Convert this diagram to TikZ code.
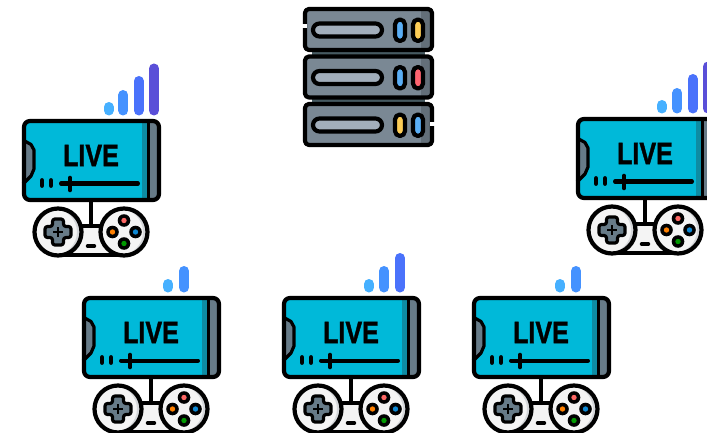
\documentclass[tikz,border=0pt]{standalone}
\usepackage{fontspec}
\setmainfont{Liberation Sans}
\definecolor{scr}{HTML}{00B9D9}
\definecolor{scrd}{HTML}{0E8CA3}
\definecolor{slate}{HTML}{677B88}
\definecolor{rack}{HTML}{7A8894}
\definecolor{rackd}{HTML}{636F79}
\definecolor{neck}{HTML}{465A61}
\definecolor{slot}{HTML}{A2AEBB}
\definecolor{ledb}{HTML}{5AAEF5}
\definecolor{ledy}{HTML}{FDCD56}
\definecolor{ledr}{HTML}{FE646F}
\definecolor{padw}{HTML}{F4F4F4}
\definecolor{padg}{HTML}{D5D7DA}
\definecolor{barA}{HTML}{46B0FF}
\definecolor{barB}{HTML}{4592FF}
\definecolor{barC}{HTML}{4A72FB}
\definecolor{barD}{HTML}{5A4FD8}
\tikzset{
  ink/.style={draw=black,line width=4.2pt,line join=round,line cap=round},
  thin ink/.style={draw=black,line width=3.2pt,line join=round},
  sigbar/.style={line width=10pt,line cap=round},
  livetext/.style={inner sep=0pt,font=\bfseries\fontsize{31}{31}\selectfont\addfontfeature{FakeBold=1.4}},
}
% one stream device: x, y of the screen's corner, name
\newcommand{\gamedevice}[3]{%
\begin{scope}[shift={(#1,#2)}]
  % screen
  \fill[slate,rounded corners=6pt] (1,1) rectangle (138,82);
  \fill[scr,rounded corners=5pt] (1,1) -- (126,1) -- (126,82) -- (1,82) -- cycle;
  \fill[scrd] (120,1.5) rectangle (126,81);
  \draw[draw=black,line width=3.6pt] (126.5,1) -- (126.5,82);
  % notch
  \fill[slate] (1,21) -- (9,25.5) -- (12,31) -- (12,50) -- (9,57) -- (1,65) -- cycle;
  \draw[thin ink,fill=none] (1,21) -- (9,25.5) -- (12,31) -- (12,50) -- (9,57) -- (1,65);
  \draw[ink,rounded corners=6pt] (2,2) rectangle (137,81);
  % label
  \node[livetext] (#3) at (69,36.5) {\scalebox{0.81}[1]{LIVE}};
  % slider
  \draw[line width=4.8pt,line cap=round] (20,61.5) -- (20,66.5);
  \draw[line width=4.8pt,line cap=round] (29,61.5) -- (29,66.5);
  \draw[line width=4pt,line cap=round] (39,64.5) -- (116,64.5);
  \draw[line width=4.6pt,line cap=round] (48,59) -- (48,71);
  % gamepad
  \fill[padw] (50,108) -- (88,108) -- (96,137) -- (42,137) -- cycle;
  \draw[ink] (52,107) -- (86,107);
  \draw[ink] (42,136) -- (96,136);
  \draw[ink] (69,82) -- (69,107);
  \draw[line width=3.4pt,line cap=round] (65.5,127) -- (72.5,127);
  \foreach \cx in {36,102} {
    \fill[padw] (\cx,113) circle (23);
    \begin{scope}
      \clip (\cx,113) circle (23);
      \fill[padg,even odd rule] (\cx,113) circle (23) (\cx-4,113) circle (23);
    \end{scope}
    \draw[ink] (\cx,113) circle (23.5);
  }
  % dpad
  \draw[thin ink,fill=slate,rounded corners=2.5pt]
    (30.5,100) -- (41.5,100) -- (41.5,107.5) -- (49,107.5) -- (49,118.5) -- (41.5,118.5)
    -- (41.5,126) -- (30.5,126) -- (30.5,118.5) -- (23,118.5) -- (23,107.5) -- (30.5,107.5) -- cycle;
  \draw[line width=2.6pt] (36,108) -- (36,118) (31,113) -- (41,113);
  % buttons
  \foreach \bx/\by/\bc in {102/101.5/ledr!90!orange, 90.5/113/orange, 113.5/113/cyan!70!blue, 102/124.5/green!60!black} {
    \fill[black] (\bx,\by) circle (6.3);
    \fill[\bc] (\bx,\by) circle (2.7);
  }
\end{scope}}
% signal bars: x, y origin, then list of x/top/colour
\newcommand{\sigbars}[3]{%
\begin{scope}[shift={(#1,#2)}]
  \fill[white] (80,-3) rectangle (145,-0.6);
  \foreach \bx/\bt/\bc in {#3} {
    \draw[sigbar,\bc] (\bx,-8.5) -- (\bx,\bt);
  }
\end{scope}}
% server unit: top y, colours of the two lamps
\newcommand{\serverunit}[3]{%
  \fill[rack,rounded corners=4pt] (305,#1) rectangle (432,#1+41);
  \fill[rackd] (421,#1+1) rectangle (431,#1+40);
  \draw[ink,rounded corners=4pt] (305,#1) rectangle (432,#1+41);
  \draw[ink,fill=slot,rounded corners=6.5pt] (313,#1+14.5) rectangle (382,#1+27.5);
  \draw[ink,fill=#2,rounded corners=5pt] (395,#1+10.5) rectangle (405,#1+32);
  \draw[ink,fill=#3,rounded corners=5pt] (413,#1+10.5) rectangle (423,#1+32);
}
\begin{document}
\begin{tikzpicture}[x=1pt,y=-1pt]
  \useasboundingbox (0,0) rectangle (707,433);
  \clip (0,0) rectangle (707,433);
  \fill[white] (0,0) rectangle (707,433);
  % server
  \fill[neck] (312,48) rectangle (425,56);
  \fill[neck] (312,96) rectangle (425,104);
  \serverunit{9}{ledb}{ledy}
  \serverunit{56.5}{ledb}{ledr}
  \serverunit{104}{ledy}{ledb}
  \fill[white] (302,24) rectangle (307,28);
  \fill[white] (430,122) rectangle (435,126);
  % devices
  \gamedevice{22}{119}{liveA}
  \sigbars{22}{119}{86.7/-12/barA, 101.3/-24/barB, 116.7/-38/barC, 132/-50.5/barD}
  \gamedevice{576}{117}{liveB}
  \sigbars{576}{117}{85.7/-12/barA, 101.3/-24/barB, 116.7/-38/barC, 132/-50.5/barD}
  \gamedevice{82}{296}{liveC}
  \sigbars{82}{296}{86/-12/barA, 102/-25/barB}
  \gamedevice{282}{296}{liveD}
  \sigbars{282}{296}{87/-12/barA, 102/-25/barB, 118/-38/barC}
  \gamedevice{472}{296}{liveE}
  \sigbars{472}{296}{88/-12/barA, 104/-25/barB}
\end{tikzpicture}
\end{document}
